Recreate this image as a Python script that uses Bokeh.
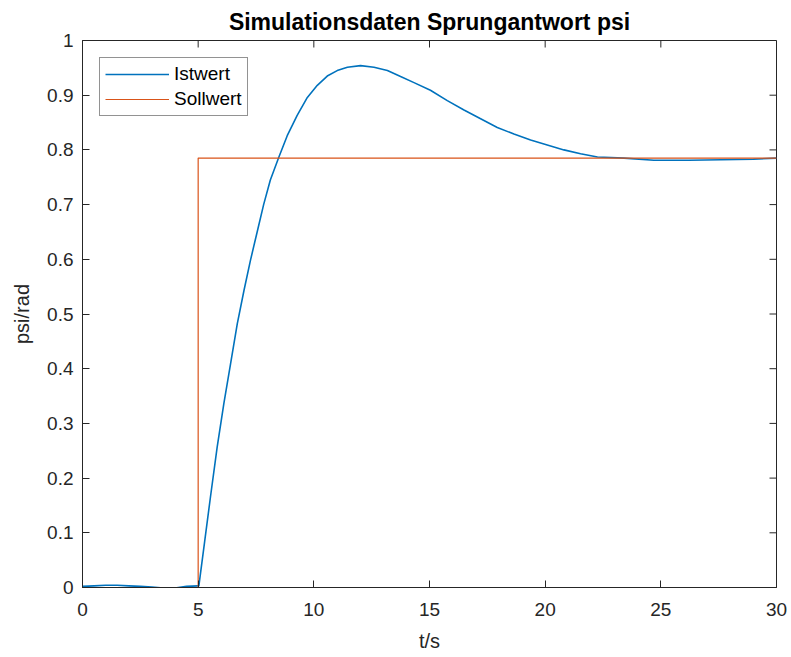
import math
from bokeh.plotting import figure
from bokeh.models import Range1d, FixedTicker, Legend, LegendItem
from bokeh.embed import file_html
from bokeh.resources import INLINE

# Step response of psi: measured (Istwert) and setpoint (Sollwert)
t_ist = [0.0, 0.5, 1.0, 1.5, 2.0, 2.5, 3.0, 3.5, 4.0, 4.5, 5.0, 5.03,
         5.28, 5.53, 5.82, 6.11, 6.40, 6.69, 6.98, 7.26, 7.55, 7.83, 8.12,
         8.49, 8.85, 9.28, 9.72, 10.15, 10.58, 11.01, 11.45, 12.02, 12.60,
         13.18, 13.75, 14.33, 15.04, 15.77, 16.49, 17.21, 17.93, 18.65,
         19.37, 20.09, 20.81, 21.53, 22.26, 23.41, 24.7, 26.2, 27.6, 29.0,
         30.0]
y_ist = [0.002, 0.003, 0.004, 0.004, 0.003, 0.002, 0.001, -0.001, -0.001,
         0.002, 0.003, 0.003, 0.084, 0.165, 0.256, 0.336, 0.409, 0.482,
         0.543, 0.598, 0.650, 0.700, 0.745, 0.787, 0.826, 0.863, 0.896,
         0.918, 0.935, 0.945, 0.951, 0.954, 0.951, 0.945, 0.934, 0.923,
         0.909, 0.890, 0.873, 0.857, 0.841, 0.829, 0.818, 0.809, 0.800,
         0.793, 0.787, 0.785, 0.781, 0.781, 0.782, 0.783, 0.785]

t_soll = [0.0, 5.0, 5.0, 30.0]
y_soll = [0.0, 0.0, 0.785, 0.785]

x_ticks = [0, 5, 10, 15, 20, 25, 30]
y_ticks = [0.0, 0.1, 0.2, 0.3, 0.4, 0.5, 0.6, 0.7, 0.8, 0.9, 1.0]
y_tick_labels = ["0", "0.1", "0.2", "0.3", "0.4", "0.5", "0.6", "0.7", "0.8", "0.9", "1"]

FONT = "Liberation Sans"
AX = "#262626"
TICK_LEN = 7

p = figure(width=791, height=657, output_backend="svg", toolbar_location=None,
           x_range=Range1d(0, 30), y_range=Range1d(0, 1),
           title="Simulationsdaten Sprungantwort psi",
           min_border_left=82, min_border_right=15,
           min_border_top=40, min_border_bottom=70)

p.title.align = "center"
p.title.text_font = FONT
p.title.text_font_size = "23px"
p.title.text_font_style = "bold"
p.title.text_color = "#000000"
p.title.standoff = 12

p.grid.visible = False
p.background_fill_color = "white"
p.border_fill_color = "white"
p.outline_line_color = AX
p.outline_line_width = 1

for ax in (p.xaxis[0], p.yaxis[0]):
    ax.axis_line_color = AX
    ax.major_tick_line_color = AX
    ax.major_tick_in = TICK_LEN
    ax.major_tick_out = 0
    ax.minor_tick_line_color = None
    ax.major_label_text_font = FONT
    ax.major_label_text_font_size = "19px"
    ax.major_label_text_color = AX
    ax.axis_label_text_font = FONT
    ax.axis_label_text_font_size = "20px"
    ax.axis_label_text_font_style = "normal"
    ax.axis_label_text_color = AX

p.xaxis[0].ticker = FixedTicker(ticks=x_ticks)
p.xaxis[0].axis_label = "t/s"
p.xaxis[0].major_label_standoff = 15
p.xaxis[0].axis_label_standoff = 11

p.yaxis[0].ticker = FixedTicker(ticks=y_ticks)
p.yaxis[0].major_label_overrides = {v: s for v, s in zip(y_ticks, y_tick_labels)}
p.yaxis[0].axis_label = "psi/rad"
p.yaxis[0].major_label_standoff = 9
p.yaxis[0].axis_label_standoff = 11

# mirrored tick marks along the top and right edges of the box
p.ray(x=x_ticks, y=[1.0] * len(x_ticks), length=TICK_LEN, length_units="screen",
      angle=-math.pi / 2, line_color=AX, line_width=1)
p.ray(x=[30.0] * len(y_ticks), y=y_ticks, length=TICK_LEN, length_units="screen",
      angle=math.pi, line_color=AX, line_width=1)

r_ist = p.line(t_ist, y_ist, line_color="#0072BD", line_width=1.6)
r_soll = p.line(t_soll, y_soll, line_color="#D95319", line_width=1.2)

legend = Legend(items=[LegendItem(label="Istwert", renderers=[r_ist]),
                       LegendItem(label="Sollwert", renderers=[r_soll])],
                location="top_left")
legend.margin = 17
legend.padding = 5
legend.spacing = 3
legend.glyph_width = 64
legend.glyph_height = 22
legend.label_standoff = 5
legend.label_text_font = FONT
legend.label_text_font_size = "19px"
legend.label_text_color = "#000000"
legend.border_line_color = AX
legend.border_line_width = 1
legend.background_fill_alpha = 1
p.add_layout(legend, "center")

open("out.html", "w").write(file_html(p, INLINE))
